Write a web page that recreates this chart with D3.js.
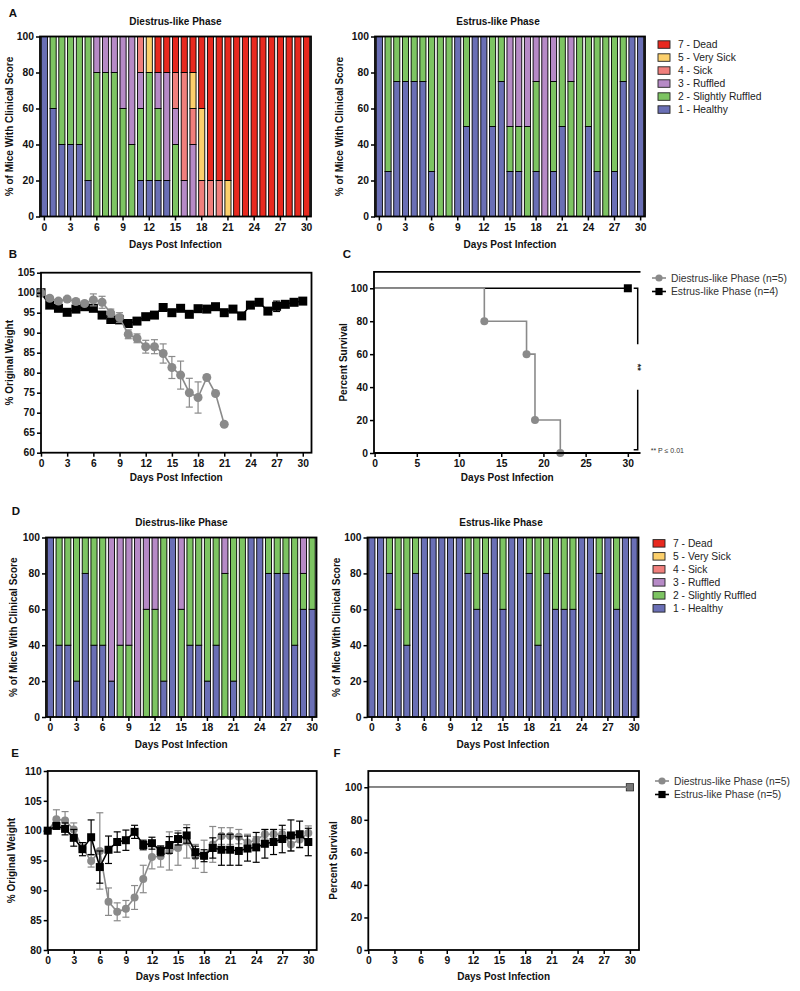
<!DOCTYPE html>
<html>
<head>
<meta charset="utf-8">
<script src="https://cdn.jsdelivr.net/npm/d3@7"></script>
<style>
  body { margin: 0; background: #fff; }
  svg { display: block; }
</style>
</head>
<body>
<div id="chart"></div>
<script>
// ---- data ----
const days = [0,1,2,3,4,5,6,7,8,9,10,11,12,13,14,15,16,17,18,19,20,21,22,23,24,25,26,27,28,29,30];
const dayTicks = [0,3,6,9,12,15,18,21,24,27,30];
const survivalTicks = [0,5,10,15,20,25,30];
const pctTicks = [0,20,40,60,80,100];
const weightTicksB = [60,65,70,75,80,85,90,95,100,105];
const weightTicksE = [80,85,90,95,100,105,110];

const scoreKeys = ["1 - Healthy", "2 - Slightly Ruffled", "3 - Ruffled", "4 - Sick", "5 - Very Sick", "7 - Dead"];
const scoreColors = ["#6a6fb5", "#7dc462", "#b68ac6", "#f07f7c", "#fcd06c", "#e8291f"];

// each row: [healthy, slightly ruffled, ruffled, sick, very sick, dead] in % of mice
const scoresA_diestrus = [
  [100,0,0,0,0,0],[60,40,0,0,0,0],[40,60,0,0,0,0],[40,60,0,0,0,0],[40,60,0,0,0,0],[20,80,0,0,0,0],
  [0,80,20,0,0,0],[0,80,20,0,0,0],[0,80,20,0,0,0],[0,60,40,0,0,0],[0,40,60,0,0,0],
  [20,40,20,20,0,0],[20,60,0,0,20,0],[20,40,20,0,0,20],[20,0,60,0,0,20],[0,40,20,20,0,20],
  [0,0,20,60,0,20],[0,0,40,20,20,20],[0,0,0,20,40,40],[0,0,0,20,0,80],[0,0,0,20,0,80],
  [0,0,0,0,20,80],[0,0,0,0,0,100],[0,0,0,0,0,100],[0,0,0,0,0,100],[0,0,0,0,0,100],
  [0,0,0,0,0,100],[0,0,0,0,0,100],[0,0,0,0,0,100],[0,0,0,0,0,100],[0,0,0,0,0,100]
];
const scoresA_estrus = [
  [100,0,0,0,0,0],[25,75,0,0,0,0],[75,25,0,0,0,0],[75,25,0,0,0,0],[75,25,0,0,0,0],[75,25,0,0,0,0],
  [25,75,0,0,0,0],[0,100,0,0,0,0],[0,100,0,0,0,0],[100,0,0,0,0,0],[50,50,0,0,0,0],
  [100,0,0,0,0,0],[100,0,0,0,0,0],[50,50,0,0,0,0],[75,25,0,0,0,0],[25,25,50,0,0,0],
  [25,25,50,0,0,0],[0,50,50,0,0,0],[25,50,25,0,0,0],[0,0,100,0,0,0],[25,50,25,0,0,0],
  [50,50,0,0,0,0],[0,75,25,0,0,0],[0,100,0,0,0,0],[50,50,0,0,0,0],[25,75,0,0,0,0],
  [0,100,0,0,0,0],[25,75,0,0,0,0],[75,25,0,0,0,0],[100,0,0,0,0,0],[100,0,0,0,0,0]
];
const scoresD_diestrus = [
  [100,0,0,0,0,0],[40,60,0,0,0,0],[40,60,0,0,0,0],[20,80,0,0,0,0],[80,20,0,0,0,0],[40,60,0,0,0,0],
  [40,60,0,0,0,0],[20,0,80,0,0,0],[0,40,60,0,0,0],[0,40,60,0,0,0],[0,0,100,0,0,0],
  [0,60,40,0,0,0],[0,60,40,0,0,0],[20,80,0,0,0,0],[100,0,0,0,0,0],[0,60,40,0,0,0],
  [40,60,0,0,0,0],[40,60,0,0,0,0],[20,80,0,0,0,0],[40,60,0,0,0,0],[0,80,20,0,0,0],
  [20,80,0,0,0,0],[0,100,0,0,0,0],[100,0,0,0,0,0],[100,0,0,0,0,0],[80,20,0,0,0,0],
  [80,20,0,0,0,0],[80,20,0,0,0,0],[40,60,0,0,0,0],[60,20,20,0,0,0],[60,40,0,0,0,0]
];
const scoresD_estrus = [
  [100,0,0,0,0,0],[100,0,0,0,0,0],[80,20,0,0,0,0],[60,40,0,0,0,0],[40,60,0,0,0,0],[80,20,0,0,0,0],
  [100,0,0,0,0,0],[100,0,0,0,0,0],[100,0,0,0,0,0],[100,0,0,0,0,0],[100,0,0,0,0,0],
  [80,20,0,0,0,0],[60,40,0,0,0,0],[80,20,0,0,0,0],[100,0,0,0,0,0],[60,40,0,0,0,0],
  [100,0,0,0,0,0],[100,0,0,0,0,0],[80,20,0,0,0,0],[40,60,0,0,0,0],[80,20,0,0,0,0],
  [60,40,0,0,0,0],[60,40,0,0,0,0],[60,40,0,0,0,0],[100,0,0,0,0,0],[100,0,0,0,0,0],
  [80,20,0,0,0,0],[100,0,0,0,0,0],[60,40,0,0,0,0],[100,0,0,0,0,0],[100,0,0,0,0,0]
];

// weight, % of original (mean and error)
const weightB_diestrusDays = [0,1,2,3,4,5,6,7,8,9,10,11,12,13,14,15,16,17,18,19,20,21];
const weightB_diestrus = [100,98.6,97.9,98.4,97.8,97.3,98.2,97.6,94.9,93.8,89.6,88.6,86.5,86.5,84.8,81.3,79.4,75.0,73.8,78.8,74.8,67.1];
const weightB_diestrusErr = [0,0.5,0.5,0.5,0.5,0.5,1.5,1.5,1.0,1.2,1.1,1.1,1.6,1.75,2.4,2.75,3.5,3.6,3.9,0,0,0];
const weightB_estrus = [100,96.9,96.1,95.1,95.9,96.5,96.1,94.4,93.3,93.2,92.3,92.9,94.0,94.4,96.3,95.0,96.1,94.6,96.0,95.9,96.5,95.0,95.9,94.2,96.9,97.6,95.4,96.6,97.1,97.6,97.9];
const weightB_estrusErr = [0,0.4,0.4,0.4,0.4,0.4,0.4,0.4,0.4,0.4,0.4,0.4,0.4,0.4,0.4,0.4,0.4,0.4,0.4,0.4,0.4,0.4,0.4,0.4,0.5,0.5,0.5,1.3,0.5,0.5,0.5];

const weightE_diestrus = [100,101.9,101.7,100.2,97.1,94.9,96.6,88.1,86.4,86.9,88.8,91.9,95.6,95.7,96.6,97.1,98.2,95.7,95.7,97.7,99.1,99.1,99.0,98.0,98.4,99.4,99.4,99.4,97.7,98.5,99.6];
const weightE_diestrusErr = [0,1.6,1.5,1.1,0.6,1.0,6.4,2.3,1.5,1.4,2.0,2.3,2.0,1.8,3.2,2.9,2.8,2.0,2.7,3.0,1.4,1.4,1.2,1.4,0.6,0.8,0.8,0.8,1.1,1.4,1.2];
const weightE_estrus = [100,100.8,100.3,98.8,96.9,98.9,93.9,96.8,98.1,98.4,99.8,97.6,97.9,96.6,97.6,98.6,99.2,96.4,95.8,97.1,96.8,96.8,96.6,97.0,97.2,97.8,98.1,98.6,99.2,99.4,98.1];
const weightE_estrusErr = [0,0.5,1.0,1.4,1.1,2.9,2.7,2.3,1.7,1.7,1.1,0.8,1.0,0.8,1.4,1.0,1.3,1.0,1.0,1.7,2.6,2.6,2.4,2.1,2.5,2.4,2.1,2.3,2.6,2.2,2.3];

// survival (Kaplan-Meier steps)
const survC_diestrusDays = [0,13,18,19,22];
const survC_diestrus = [100,80,60,20,0];
const survC_estrusDays = [0,30];
const survC_estrus = [100,100];
const survF_diestrusDays = [0,30];
const survF_diestrus = [100,100];
const survF_estrusDays = [0,30];
const survF_estrus = [100,100];

// ---- drawing ----
const FONT = '"Liberation Sans", Arial, Helvetica, sans-serif';
const GRAY = "#8a8a8a";

const svg = d3.select("#chart").append("svg")
  .attr("width", 800)
  .attr("height", 991)
  .attr("font-family", FONT);

function label(x, y, txt, size, weight, anchor, rotate, fill) {
  const t = svg.append("text")
    .attr("x", x).attr("y", y)
    .attr("font-size", size)
    .attr("font-weight", weight || "bold")
    .attr("text-anchor", anchor || "middle")
    .attr("fill", fill || "#111")
    .text(txt);
  if (rotate) t.attr("transform", "rotate(" + rotate + "," + x + "," + y + ")");
  return t;
}

function frame(l, t, r, b, openRight) {
  if (openRight) {
    // survival plot C: no right edge, the significance bracket sits there
    svg.append("path")
      .attr("d", "M" + r + "," + t + "H" + l + "V" + b + "H" + r)
      .attr("fill", "none")
      .attr("stroke", "#000")
      .attr("stroke-width", 1.8);
    return;
  }
  svg.append("rect")
    .attr("x", l).attr("y", t)
    .attr("width", r - l).attr("height", b - t)
    .attr("fill", "none")
    .attr("stroke", "#000")
    .attr("stroke-width", 1.8);
}

function styleAxis(g) {
  g.select(".domain").remove();
  g.selectAll(".tick line").attr("stroke", "#000").attr("stroke-width", 1.5);
  g.selectAll(".tick text")
    .attr("font-size", 10.3)
    .attr("font-weight", "bold")
    .attr("font-family", FONT)
    .attr("fill", "#111");
}

function leftAxis(y, ticks, l) {
  svg.append("g")
    .attr("transform", "translate(" + l + ",0)")
    .call(d3.axisLeft(y).tickValues(ticks).tickSize(4).tickPadding(2))
    .call(styleAxis);
}

function bottomAxis(x, ticks, b) {
  svg.append("g")
    .attr("transform", "translate(0," + b + ")")
    .call(d3.axisBottom(x).tickValues(ticks).tickSize(4).tickPadding(3))
    .call(styleAxis);
}

function scorePanel(rows, box, title, titleX, ylabX) {
  const x = d3.scaleBand().domain(days).range([box.l, box.r]).paddingInner(0.3).paddingOuter(0.15);
  const y = d3.scaleLinear().domain([0, 100]).range([box.b, box.t]);
  const stacked = d3.stack().keys([0, 1, 2, 3, 4, 5])(rows);

  svg.append("g").selectAll("g")
    .data(stacked)
    .join("g")
    .attr("fill", (d, i) => scoreColors[i])
    .selectAll("rect")
    .data(d => d.map((v, i) => ({ y0: v[0], y1: v[1], day: days[i] })).filter(s => s.y1 > s.y0))
    .join("rect")
    .attr("x", s => x(s.day))
    .attr("width", x.bandwidth())
    .attr("y", s => y(s.y1))
    .attr("height", s => y(s.y0) - y(s.y1))
    .attr("stroke", "#000")
    .attr("stroke-width", 0.9);

  frame(box.l, box.t, box.r, box.b);
  leftAxis(y, pctTicks, box.l);
  bottomAxis(x, dayTicks, box.b);

  label(titleX, box.t - 12, title, 10);
  label(ylabX, (box.t + box.b) / 2, "% of Mice With Clinical Score", 10, "bold", "middle", -90);
  label((box.l + box.r) / 2, box.b + 31, "Days Post Infection", 10);
}

function scoreLegend(x0, y0) {
  const order = [5, 4, 3, 2, 1, 0];
  const g = svg.append("g");
  order.forEach((k, i) => {
    g.append("rect")
      .attr("x", x0).attr("y", y0 + i * 13 - 3.7)
      .attr("width", 12).attr("height", 7.5)
      .attr("fill", scoreColors[k])
      .attr("stroke", "#222").attr("stroke-width", 0.9);
    g.append("text")
      .attr("x", x0 + 20).attr("y", y0 + i * 13 + 3.6)
      .attr("font-size", 10.3)
      .attr("fill", "#222")
      .text(scoreKeys[k]);
  });
}

function errorBars(x, y, dx, vals, errs, color) {
  const pts = dx.map((d, i) => ({ d: d, v: vals[i], e: errs[i] })).filter(p => p.e > 0);
  const g = svg.append("g").attr("stroke", color).attr("stroke-width", 1.2);
  g.selectAll("line.v").data(pts).join("line")
    .attr("x1", p => x(p.d)).attr("x2", p => x(p.d))
    .attr("y1", p => y(p.v - p.e)).attr("y2", p => y(p.v + p.e));
  g.selectAll("line.t").data(pts).join("line")
    .attr("x1", p => x(p.d) - 3.5).attr("x2", p => x(p.d) + 3.5)
    .attr("y1", p => y(p.v + p.e)).attr("y2", p => y(p.v + p.e));
  g.selectAll("line.b").data(pts).join("line")
    .attr("x1", p => x(p.d) - 3.5).attr("x2", p => x(p.d) + 3.5)
    .attr("y1", p => y(p.v - p.e)).attr("y2", p => y(p.v - p.e));
}

function series(x, y, dx, vals, errs, kind, size, curve) {
  const color = kind === "circle" ? GRAY : "#000";
  const line = d3.line().x((v, i) => x(dx[i])).y(v => y(v)).curve(curve || d3.curveLinear);
  if (errs) errorBars(x, y, dx, vals, errs, color);
  svg.append("path")
    .datum(vals)
    .attr("d", line)
    .attr("fill", "none")
    .attr("stroke", color)
    .attr("stroke-width", 1.6);
  return color;
}

function markers(x, y, dx, vals, kind, size) {
  const g = svg.append("g");
  if (kind === "circle") {
    g.selectAll("circle").data(vals).join("circle")
      .attr("cx", (v, i) => x(dx[i])).attr("cy", v => y(v))
      .attr("r", size / 2).attr("fill", GRAY);
  } else {
    g.selectAll("rect").data(vals).join("rect")
      .attr("x", (v, i) => x(dx[i]) - size / 2).attr("y", v => y(v) - size / 2)
      .attr("width", size).attr("height", size).attr("fill", "#000");
  }
}

function survivalLegend(x0, y0, labels) {
  const g = svg.append("g");
  labels.forEach((txt, i) => {
    const yy = y0 + i * 13.5;
    const c = i === 0 ? GRAY : "#000";
    g.append("line").attr("x1", x0 - 7).attr("x2", x0 + 7).attr("y1", yy).attr("y2", yy)
      .attr("stroke", c).attr("stroke-width", 1.6);
    if (i === 0) g.append("circle").attr("cx", x0).attr("cy", yy).attr("r", 3.6).attr("fill", c);
    else g.append("rect").attr("x", x0 - 3.6).attr("y", yy - 3.6).attr("width", 7.2).attr("height", 7.2).attr("fill", c);
    g.append("text").attr("x", x0 + 12).attr("y", yy + 3.6)
      .attr("font-size", 10.3).attr("fill", "#333").text(txt);
  });
}

// panel letters
label(13, 17, "A", 11.5, "bold", "middle");
label(13, 258, "B", 11.5, "bold", "middle");
label(347, 258, "C", 11.5, "bold", "middle");
label(16, 515, "D", 11.5, "bold", "middle");
label(15, 757, "E", 11.5, "bold", "middle");
label(337, 757, "F", 11.5, "bold", "middle");

// ---- A ----
scorePanel(scoresA_diestrus, { l: 40, r: 311, t: 36.5, b: 216.5 }, "Diestrus-like Phase", 175.5, 13);
scorePanel(scoresA_estrus, { l: 375, r: 645, t: 36.5, b: 216.5 }, "Estrus-like Phase", 498, 343);
scoreLegend(658, 44.5);

// ---- D ----
scorePanel(scoresD_diestrus, { l: 46, r: 316.5, t: 537.5, b: 717 }, "Diestrus-like Phase", 181.5, 17);
scorePanel(scoresD_estrus, { l: 367.5, r: 638.5, t: 537.5, b: 717 }, "Estrus-like Phase", 501, 340);
scoreLegend(653, 543.3);

// ---- B: weight ----
(function () {
  const box = { l: 41, r: 311.5, t: 272.7, b: 452.7 };
  const x = d3.scaleLinear().domain([0, 31]).range([box.l, box.r]);
  const y = d3.scaleLinear().domain([60, 105]).range([box.b, box.t]);
  series(x, y, days, weightB_estrus, weightB_estrusErr, "square");
  markers(x, y, days, weightB_estrus, "square", 9);
  series(x, y, weightB_diestrusDays, weightB_diestrus, weightB_diestrusErr, "circle");
  markers(x, y, weightB_diestrusDays, weightB_diestrus, "circle", 9);
  frame(box.l, box.t, box.r, box.b);
  leftAxis(y, weightTicksB, box.l);
  bottomAxis(x, dayTicks, box.b);
  label(13, (box.t + box.b) / 2, "% Original Weight", 10, "bold", "middle", -90);
  label((box.l + box.r) / 2, box.b + 28, "Days Post Infection", 10);
})();

// ---- C: survival ----
(function () {
  const box = { l: 374, r: 640.5, t: 271.8, b: 453 };
  const x = d3.scaleLinear().domain([0, 31.5]).range([374.6, box.r]);
  const y = d3.scaleLinear().domain([0, 110]).range([box.b, box.t]);
  series(x, y, survC_estrusDays, survC_estrus, null, "square", 0, d3.curveStepAfter);
  markers(x, y, survC_estrusDays.slice(1), survC_estrus.slice(1), "square", 8);
  series(x, y, survC_diestrusDays, survC_diestrus, null, "circle", 0, d3.curveStepAfter);
  markers(x, y, survC_diestrusDays.slice(1), survC_diestrus.slice(1), "circle", 8);
  frame(box.l, box.t, box.r, box.b, true);
  leftAxis(y, pctTicks, box.l);
  bottomAxis(x, survivalTicks, box.b);
  label(347, (box.t + box.b) / 2, "Percent Survival", 10, "bold", "middle", -90);
  label((box.l + box.r) / 2, box.b + 28, "Days Post Infection", 10);

  // significance bracket
  const bx = 637.7;
  const br = svg.append("g").attr("stroke", "#000").attr("stroke-width", 1.5).attr("fill", "none");
  br.append("path").attr("d", "M" + (bx - 4) + "," + y(100) + "H" + bx + "V" + (y(60) - 10));
  br.append("path").attr("d", "M" + (bx - 4) + "," + y(2) + "H" + bx + "V" + (y(42) + 6));
  label(bx - 3, y(52), "**", 9, "bold", "middle", 90, "#222");
  label(650.7, 452.5, "** P \u2264 0.01", 7, "normal", "start", 0, "#333");
  survivalLegend(659, 278, ["Diestrus-like Phase (n=5)", "Estrus-like Phase (n=4)"]);
})();

// ---- E: weight ----
(function () {
  const box = { l: 47.7, r: 316.7, t: 771, b: 950 };
  const x = d3.scaleLinear().domain([0, 31]).range([box.l, 317]);
  const y = d3.scaleLinear().domain([80, 110]).range([box.b, box.t]);
  series(x, y, days, weightE_diestrus, weightE_diestrusErr, "circle");
  markers(x, y, days, weightE_diestrus, "circle", 8);
  series(x, y, days, weightE_estrus, weightE_estrusErr, "square");
  markers(x, y, days, weightE_estrus, "square", 8);
  frame(box.l, box.t, box.r, box.b);
  leftAxis(y, weightTicksE, box.l);
  bottomAxis(x, dayTicks, box.b);
  label(15, (box.t + box.b) / 2, "% Original Weight", 10, "bold", "middle", -90);
  label((box.l + box.r) / 2, box.b + 30, "Days Post Infection", 10);
})();

// ---- F: survival ----
(function () {
  const box = { l: 368.3, r: 639, t: 771, b: 950 };
  const x = d3.scaleLinear().domain([0, 31]).range([box.l, 638.6]);
  const y = d3.scaleLinear().domain([0, 110]).range([box.b, box.t]);
  series(x, y, survF_estrusDays, survF_estrus, null, "square", 0, d3.curveStepAfter);
  markers(x, y, survF_estrusDays.slice(1), survF_estrus.slice(1), "square", 8);
  series(x, y, survF_diestrusDays, survF_diestrus, null, "circle", 0, d3.curveStepAfter);
  svg.append("g").selectAll("rect").data(survF_diestrus.slice(1)).join("rect")
    .attr("x", (v, i) => x(survF_diestrusDays[i + 1]) - 3.5).attr("y", v => y(v) - 3.5)
    .attr("width", 7).attr("height", 7).attr("fill", "#777");
  frame(box.l, box.t, box.r, box.b);
  leftAxis(y, pctTicks, box.l);
  bottomAxis(x, dayTicks, box.b);
  label(337, (box.t + box.b) / 2, "Percent Survival", 10, "bold", "middle", -90);
  label((box.l + box.r) / 2, box.b + 30, "Days Post Infection", 10);
  survivalLegend(662, 781, ["Diestrus-like Phase (n=5)", "Estrus-like Phase (n=5)"]);
})();
</script>
</body>
</html>
